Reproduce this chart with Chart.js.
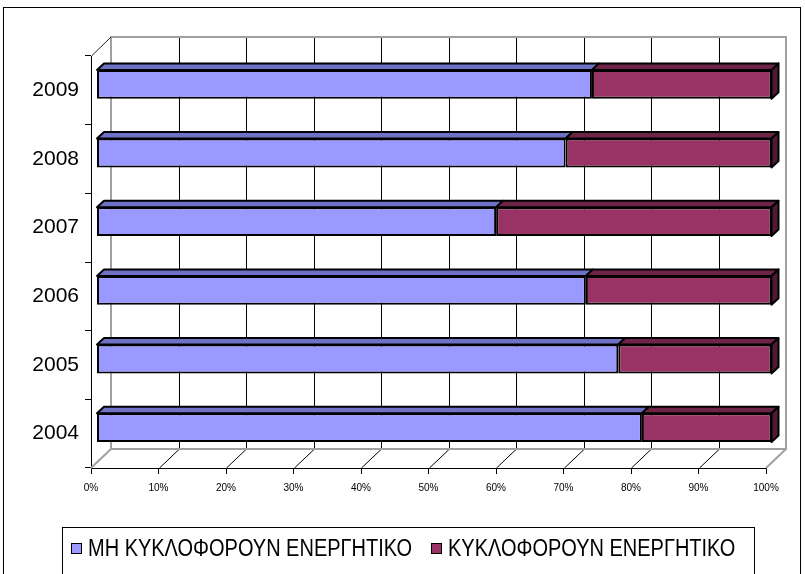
<!DOCTYPE html>
<html>
<head>
<meta charset="utf-8">
<script src="https://cdn.jsdelivr.net/npm/chart.js@4.4.0/dist/chart.umd.min.js"></script>
<style>
  html, body { margin: 0; padding: 0; background: #fff; }
  canvas { display: block; }
</style>
</head>
<body>
<canvas id="chart" width="805" height="574"></canvas>
<script>
// Years shown top to bottom
const years = ['2009', '2008', '2007', '2006', '2005', '2004'];
const seriesNames = ['ΜΗ ΚΥΚΛΟΦΟΡΟΥΝ ΕΝΕΡΓΗΤΙΚΟ', 'ΚΥΚΛΟΦΟΡΟΥΝ ΕΝΕΡΓΗΤΙΚΟ'];
// Share of total assets, percent
const nonCurrentAssets = [73.4, 69.5, 59.2, 72.5, 77.3, 80.8];
const currentAssets = [26.6, 30.5, 40.8, 27.5, 22.7, 19.2];
const percentTicks = [0, 10, 20, 30, 40, 50, 60, 70, 80, 90, 100];

const FONT = '"Liberation Sans", Arial, sans-serif';

// Depth of the floor / back wall, offset of the bar slab, and bar thickness in depth
const WALL = { dx: 20, dy: -19 };
const SHIFT = { dx: 5.5, dy: -6 };
const SLAB = { dx: 7, dy: -6.5 };

const faceColors = {
  front: ['#9999FF', '#993366'],
  top: ['#6F72C4', '#6E2447'],
  side: ['#4C6080', '#4F1A36']
};

function line(ctx, x1, y1, x2, y2) {
  ctx.beginPath();
  ctx.moveTo(x1, y1);
  ctx.lineTo(x2, y2);
  ctx.stroke();
}

const box3d = {
  id: 'box3d',
  beforeDatasetsDraw(chart) {
    const { ctx, chartArea: a, scales: { x } } = chart;
    const L = a.left, R = a.right, T = a.top, B = a.bottom;
    const bl = L + WALL.dx, br = R + WALL.dx, bt = T + WALL.dy, bb = B + WALL.dy;
    ctx.save();
    // grid lines on the back wall and across the floor
    ctx.strokeStyle = '#000';
    ctx.lineWidth = 1;
    percentTicks.slice(1, -1).forEach(v => {
      const px = Math.round(x.getPixelForValue(v)) + 0.5;
      line(ctx, px + WALL.dx, bt, px + WALL.dx, bb);
      line(ctx, px, B, px + WALL.dx, bb);
    });
    // wall and floor edges
    ctx.strokeStyle = '#A0A0A0';
    ctx.lineWidth = 2;
    ctx.beginPath();
    ctx.moveTo(bl, bb); ctx.lineTo(bl, bt); ctx.lineTo(br, bt); ctx.lineTo(br, bb); ctx.lineTo(bl, bb);
    ctx.stroke();
    line(ctx, L, B, bl, bb);
    line(ctx, R, B, br, bb);
    ctx.strokeStyle = '#222';
    ctx.lineWidth = 1;
    line(ctx, L + 0.5, T, bl, bt);
    ctx.restore();
    // bars sit a little behind the front edge of the floor
    ctx.save();
    ctx.translate(SHIFT.dx, SHIFT.dy);
  },
  afterDatasetsDraw(chart) {
    const { ctx } = chart;
    ctx.lineWidth = 2;
    ctx.lineJoin = 'round';
    ctx.strokeStyle = '#000';
    const last = chart.data.datasets.length - 1;
    chart.data.datasets.forEach((ds, di) => {
      const meta = chart.getDatasetMeta(di);
      meta.data.forEach(el => {
        const p = el.getProps(['x', 'y', 'base', 'height'], true);
        const left = Math.min(p.x, p.base), right = Math.max(p.x, p.base);
        const top = p.y - p.height / 2, bottom = p.y + p.height / 2;
        ctx.fillStyle = faceColors.top[di];
        ctx.beginPath();
        ctx.moveTo(left, top);
        ctx.lineTo(right, top);
        ctx.lineTo(right + SLAB.dx, top + SLAB.dy);
        ctx.lineTo(left + SLAB.dx, top + SLAB.dy);
        ctx.closePath();
        ctx.fill();
        ctx.stroke();
        if (di === last) {
          ctx.fillStyle = faceColors.side[di];
          ctx.beginPath();
          ctx.moveTo(right, top);
          ctx.lineTo(right + SLAB.dx, top + SLAB.dy);
          ctx.lineTo(right + SLAB.dx, bottom + SLAB.dy);
          ctx.lineTo(right, bottom);
          ctx.closePath();
          ctx.fill();
          ctx.stroke();
        }
      });
    });
    ctx.restore();
  },
  afterDraw(chart) {
    const { ctx } = chart;
    ctx.save();
    // outer frame
    ctx.strokeStyle = '#000';
    ctx.lineWidth = 1;
    ctx.strokeRect(3.5, 7.5, 797, 600);
    // legend box with condensed labels
    ctx.strokeRect(62.5, 527.5, 692, 100);
    ctx.font = '23px ' + FONT;
    ctx.textBaseline = 'middle';
    ctx.textAlign = 'left';
    const squeeze = 324 / ctx.measureText(chart.data.datasets[0].label).width;
    let cx = 71;
    const cy = 549;
    chart.data.datasets.forEach((ds) => {
      ctx.fillStyle = ds.backgroundColor;
      ctx.fillRect(cx + 0.5, cy - 5.5, 10, 10);
      ctx.strokeStyle = '#000';
      ctx.strokeRect(cx + 0.5, cy - 5.5, 10, 10);
      ctx.fillStyle = '#000';
      ctx.save();
      ctx.translate(cx + 17, cy + 1);
      ctx.scale(squeeze, 1);
      ctx.fillText(ds.label, 0, 0);
      ctx.restore();
      cx += 17 + ctx.measureText(ds.label).width * squeeze + 19;
    });
    ctx.restore();
  }
};

new Chart(document.getElementById('chart'), {
  type: 'bar',
  data: {
    labels: years,
    datasets: [
      { label: seriesNames[0], data: nonCurrentAssets, backgroundColor: faceColors.front[0] },
      { label: seriesNames[1], data: currentAssets, backgroundColor: faceColors.front[1] }
    ]
  },
  options: {
    indexAxis: 'y',
    responsive: false,
    animation: false,
    devicePixelRatio: 1,
    layout: { padding: { top: 56, left: 0, right: 39, bottom: 66 } },
    datasets: {
      bar: {
        borderColor: '#000',
        borderWidth: 2,
        borderSkipped: false,
        categoryPercentage: 1,
        barPercentage: 0.42
      }
    },
    plugins: {
      legend: { display: false },
      tooltip: { enabled: false }
    },
    scales: {
      x: {
        type: 'linear',
        stacked: true,
        min: 0,
        max: 100,
        position: 'bottom',
        afterBuildTicks(s) { s.ticks = percentTicks.map(v => ({ value: v })); },
        afterFit(s) { s.height = 40; },
        grid: { drawOnChartArea: false, drawTicks: true, tickLength: 6, color: '#000' },
        border: { display: true, color: '#000', width: 1 },
        ticks: {
          callback: v => v + '%',
          color: '#000',
          font: { family: FONT, size: 10 },
          padding: 8,
          maxRotation: 0,
          autoSkip: false
        }
      },
      y: {
        type: 'category',
        stacked: true,
        position: 'left',
        afterFit(s) { s.width = 91; },
        grid: { offset: true, drawOnChartArea: false, drawTicks: true, tickLength: 6, color: '#000' },
        border: { display: true, color: '#000', width: 1 },
        ticks: {
          color: '#000',
          font: { family: FONT, size: 21 },
          padding: 6
        }
      }
    }
  },
  plugins: [box3d]
});
</script>
</body>
</html>
